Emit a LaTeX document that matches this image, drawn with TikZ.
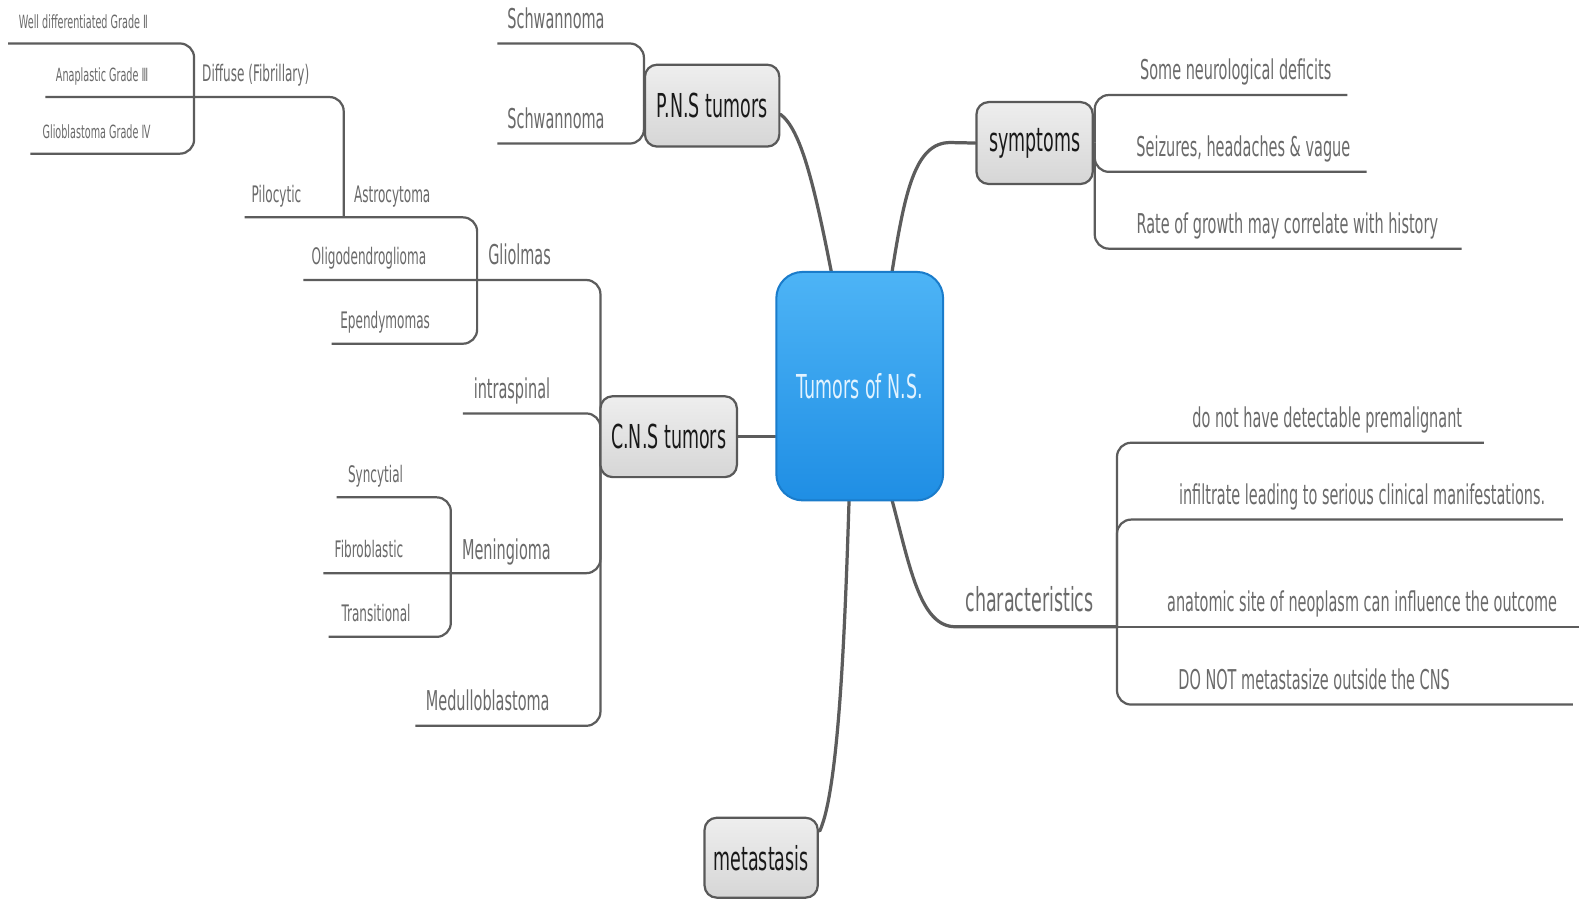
\documentclass[tikz,border=0pt]{standalone}
\usepackage{fontspec}
\newfontfamily\mf[FakeStretch=0.53]{DejaVu Sans}
\usetikzlibrary{backgrounds}
\definecolor{linegray}{HTML}{5C5C5C}
\definecolor{leafgray}{HTML}{6A6A6A}
\definecolor{boxborder}{HTML}{595959}
\definecolor{boxtop}{HTML}{EEEEEE}
\definecolor{boxbot}{HTML}{D6D6D6}
\definecolor{bluetop}{HTML}{4DB4F6}
\definecolor{bluebot}{HTML}{1F8EE4}
\definecolor{blueedge}{HTML}{1A7CCB}
\definecolor{centertext}{HTML}{E2F3FF}
\begin{document}
\begin{tikzpicture}[x=0.5pt,y=-0.5pt,
  leaf/.style={font=\mf\fontsize{13.5}{15}\selectfont, text=leafgray, inner sep=0pt, anchor=base},
  tinyleaf/.style={leaf, font=\mf\fontsize{9}{10}\selectfont},
  smallleaf/.style={leaf, font=\mf\fontsize{11.25}{12}\selectfont},
  bigleaf/.style={leaf, font=\mf\fontsize{16.3}{18}\selectfont},
  topicbox/.style={draw=boxborder, line width=1.1pt, rounded corners=6pt,
    top color=boxtop, bottom color=boxbot, inner sep=0pt,
    font=\mf\fontsize{16.3}{18}\selectfont, text=black!90},
  centerbox/.style={draw=blueedge, line width=1pt, rounded corners=13pt,
    top color=bluetop, bottom color=bluebot, inner sep=0pt,
    font=\mf\fontsize{16.3}{18}\selectfont, text=centertext},
  br/.style={draw=linegray, line width=1.1pt, rounded corners=7pt},
  mainbr/.style={draw=linegray, line width=1.6pt, line cap=round},
]
\useasboundingbox (0,0) rectangle (1568,890);

% ---------- boxes ----------
\node[centerbox, minimum width=82.5pt, minimum height=113pt] (center) at (850.5,382) {Tumors of N.S.};
\node[topicbox, minimum width=66.5pt, minimum height=40.5pt] (pns) at (704.5,104.5) {P.N.S tumors};
\node[topicbox, minimum width=67.5pt, minimum height=40pt] (cns) at (661.5,432) {C.N.S tumors};
\node[topicbox, minimum width=57.5pt, minimum height=40.5pt] (sym) at (1023.5,141.5) {symptoms};
\node[topicbox, minimum width=56pt, minimum height=39.5pt] (met) at (753,848.5) {metastasis};

% ---------- text nodes ----------
\node[tinyleaf] (wd)  at (82.5,28) {Well differentiated Grade Ⅱ};
\node[tinyleaf] (ana) at (101,81) {Anaplastic Grade Ⅲ};
\node[tinyleaf] (glb) at (95.5,137) {Glioblastoma Grade Ⅳ};
\node[smallleaf] (dif) at (253,81) {Diffuse (Fibrillary)};
\node[smallleaf] (pil) at (273.5,200) {Pilocytic};
\node[smallleaf] (ast) at (388,200) {Astrocytoma};
\node[smallleaf] (oli) at (365,262) {Oligodendroglioma};
\node[smallleaf] (epe) at (381,325) {Ependymomas};
\node[smallleaf] (syn) at (371.5,477) {Syncytial};
\node[smallleaf] (fib) at (365,552) {Fibroblastic};
\node[smallleaf] (tra) at (372,615) {Transitional};
\node[leaf] (gli) at (514,262) {Gliolmas};
\node[leaf] (int) at (506.5,394) {intraspinal};
\node[leaf] (men) at (501,553) {Meningioma};
\node[leaf] (med) at (482.5,703) {Medulloblastoma};
\node[leaf] (sw1) at (550,28) {Schwannoma};
\node[leaf] (sw2) at (550,127) {Schwannoma};
\node[leaf] (s1) at (1222.5,79) {Some neurological deficits};
\node[leaf] (s2) at (1230,155) {Seizures, headaches \& vague};
\node[leaf] (s3) at (1273.5,231) {Rate of growth may correlate with history};
\node[bigleaf] (chr) at (1018.5,605) {characteristics};
\node[leaf] (c1) at (1313,423) {do not have detectable premalignant};
\node[leaf] (c2) at (1347.5,499) {infiltrate leading to serious clinical manifestations.};
\node[leaf] (c3) at (1347.5,605) {anatomic site of neoplasm can influence the outcome};
\node[leaf] (c4) at (1300,682) {DO NOT metastasize outside the CNS};

% ---------- coordinates ----------
\coordinate (wdL) at (8,43);
\coordinate (anaL) at (45,96);
\coordinate (glbL) at (30,152);
\coordinate (difJ) at (192,96);
\coordinate (astJ) at (340,215);
\coordinate (pilL) at (242,215);
\coordinate (gliJ) at (472,277);
\coordinate (epeL) at (328,340);
\coordinate (oliL) at (300,277);
\coordinate (cnsJ) at (594,432);
\coordinate (medL) at (411,718);
\coordinate (intL) at (458,409);
\coordinate (fibL) at (320,567);
\coordinate (menJ) at (446,567);
\coordinate (synL) at (333,492);
\coordinate (traL) at (325,630);
\coordinate (sw1L) at (492,43);
\coordinate (sw2L) at (492,142);
\coordinate (pnsJ) at (637,104);
\coordinate (symJ) at (1083,141);
\coordinate (s1R) at (1333,94);
\coordinate (s2R) at (1352,170);
\coordinate (s3R) at (1446,246);
\coordinate (chJ) at (1105,620);
\coordinate (c1R) at (1468,438);
\coordinate (c2R) at (1546,514);
\coordinate (c3R) at (1562,620);
\coordinate (c4R) at (1556,697);
\coordinate (cTL) at (823,272);
\coordinate (cTR) at (882,272);
\coordinate (cBL) at (840,493);
\coordinate (cBR) at (882,493);
\coordinate (pnsA) at (772,113);
\coordinate (metA) at (811,822);

% ---------- connectors ----------
\begin{pgfonlayer}{background}
\fill[white] (0,0) rectangle (1568,890);
\draw[br] (wdL) -| (difJ);
\draw[br] (glbL) -| (difJ);
\draw[br] (anaL) -| (astJ);
\draw[br] (pilL) -| (gliJ);
\draw[br] (epeL) -| (gliJ);
\draw[br] (oliL) -| (cnsJ);
\draw[br] (medL) -| (cnsJ);
\draw[br] (intL) -| (cnsJ);
\draw[br] (fibL) -| (cnsJ);
\draw[br] (synL) -| (menJ);
\draw[br] (traL) -| (menJ);
\draw[br] (sw1L) -| (pnsJ);
\draw[br] (sw2L) -| (pnsJ);
\draw[br] (symJ) |- (s1R);
\draw[br] (symJ) |- (s2R);
\draw[br] (symJ) |- (s3R);
\draw[br] (chJ) |- (c1R);
\draw[br] (chJ) |- (c2R);
\draw[br] (chJ) -- (c3R);
\draw[br] (chJ) |- (c4R);
\draw[mainbr] (cns.east) -- (cns.east -| center.west);
\draw[mainbr] (cTL) .. controls (805,180) and (792,128) .. (pnsA);
\draw[mainbr] (cTR) .. controls (895,190) and (905,141) .. (940,141) -- (sym.west);
\draw[mainbr] (cBL) .. controls (836,620) and (830,780) .. (metA);
\draw[mainbr] (cBR) .. controls (900,560) and (910,620) .. (945,620) -- (chJ);
\end{pgfonlayer}
\end{tikzpicture}
\end{document}
